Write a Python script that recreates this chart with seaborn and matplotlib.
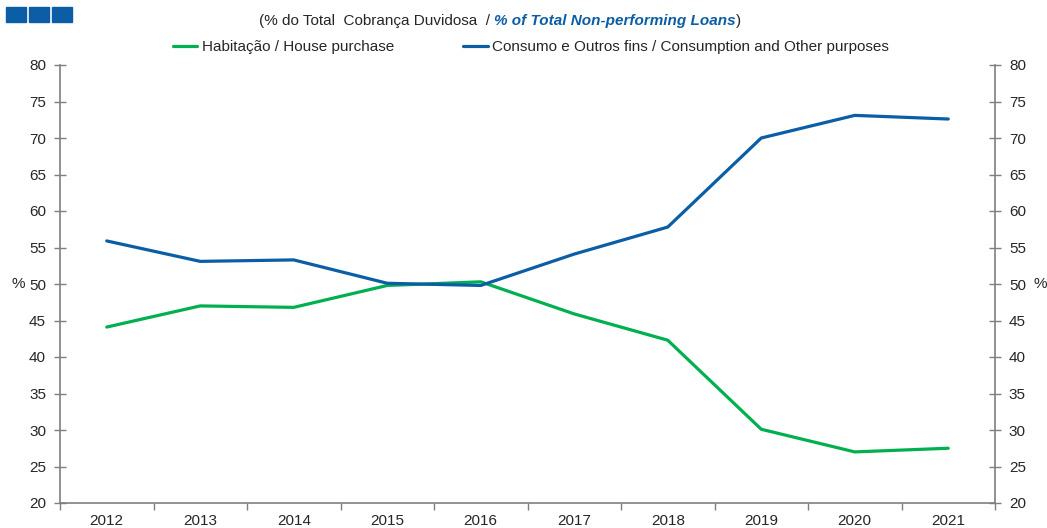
import pandas as pd
import numpy as np
import seaborn as sns
import matplotlib.pyplot as plt
from matplotlib.patches import Rectangle
from matplotlib.ticker import MultipleLocator

# Data (% of total non-performing loans)
years = ["2012", "2013", "2014", "2015", "2016", "2017", "2018", "2019", "2020", "2021"]
house = [44.1, 47.0, 46.8, 49.8, 50.3, 45.9, 42.3, 30.1, 27.0, 27.5]
consumption = [55.9, 53.1, 53.3, 50.1, 49.8, 54.1, 57.8, 70.0, 73.1, 72.6]
series_names = ["Habitação / House purchase",
                "Consumo e Outros fins / Consumption and Other purposes"]

df = pd.DataFrame({
    "pos": list(range(len(years))) * 2,
    "value": house + consumption,
    "series": [series_names[0]] * len(years) + [series_names[1]] * len(years),
})

sns.set_theme(style="ticks")
plt.rcParams["font.family"] = ["Liberation Sans", "DejaVu Sans"]

green = "#00b050"
blue = "#0b5ea6"
grey = "#7f7f7f"
text_col = "#262626"

fig = plt.figure(figsize=(10.47, 5.28), dpi=100)
ax = fig.add_axes([60 / 1047, 1 - 503 / 528, 935 / 1047, 438 / 528])

sns.lineplot(data=df, x="pos", y="value", hue="series",
             palette=[green, blue], linewidth=2.3, ax=ax, legend=False)

ax.set_xlim(-0.5, len(years) - 0.5)
ax.set_ylim(20, 80)
ax.yaxis.set_major_locator(MultipleLocator(5))
ax.set_xticks(range(len(years)))
ax.set_xticklabels(years)
ax.set_xticks(np.arange(-0.5, len(years), 1.0), minor=True)
ax.tick_params(axis="x", which="major", length=0, pad=8, labelsize=11, labelcolor=text_col)
ax.tick_params(axis="x", which="minor", length=5, width=1, color=grey, direction="out")
ax.tick_params(axis="y", which="major", length=8, width=1, color=grey, direction="inout",
               left=True, right=True, labelleft=True, labelright=True,
               labelsize=11, labelcolor=text_col, pad=6)

for side in ["left", "right", "bottom"]:
    ax.spines[side].set_color(grey)
    ax.spines[side].set_linewidth(1.2)
ax.spines["top"].set_visible(False)

ax.set_xlabel("")
ax.set_ylabel("")
fig.text(18 / 1047, 1 - 284 / 528, "%", ha="center", va="center", fontsize=11, color=text_col)
fig.text(1040 / 1047, 1 - 284 / 528, "%", ha="center", va="center", fontsize=11, color=text_col)

# Legend
handles = [plt.Line2D([], [], color=c, linewidth=2.3) for c in [green, blue]]
fig.legend(handles, series_names, loc="center", bbox_to_anchor=(531 / 1047, 1 - 47 / 528),
           ncol=2, frameon=False, fontsize=11, handlelength=1.6, handletextpad=0.3,
           columnspacing=4.5)

# Subtitle in two styles
fig.canvas.draw()
renderer = fig.canvas.get_renderer()
parts = [("(% do Total  Cobrança Duvidosa  / ", text_col, "normal", "normal"),
         ("% of Total Non-performing Loans", blue, "bold", "italic"),
         (")", text_col, "normal", "normal")]
texts = []
widths = []
for s, c, w, st in parts:
    t = fig.text(0, 1 - 21 / 528, s, color=c, fontweight=w, fontstyle=st,
                 fontsize=11, ha="left", va="center")
    texts.append(t)
    widths.append(t.get_window_extent(renderer).width)
x0 = 500 - sum(widths) / 2
for t, wd in zip(texts, widths):
    t.set_x(x0 / 1047)
    x0 += wd

# Header squares
for xs in [6, 29, 52]:
    fig.patches.append(Rectangle((xs / 1047, 1 - 22 / 528), 20 / 1047, 15 / 528,
                                 transform=fig.transFigure, color="#0b5ea6"))

fig.savefig("out.png", dpi=100)
